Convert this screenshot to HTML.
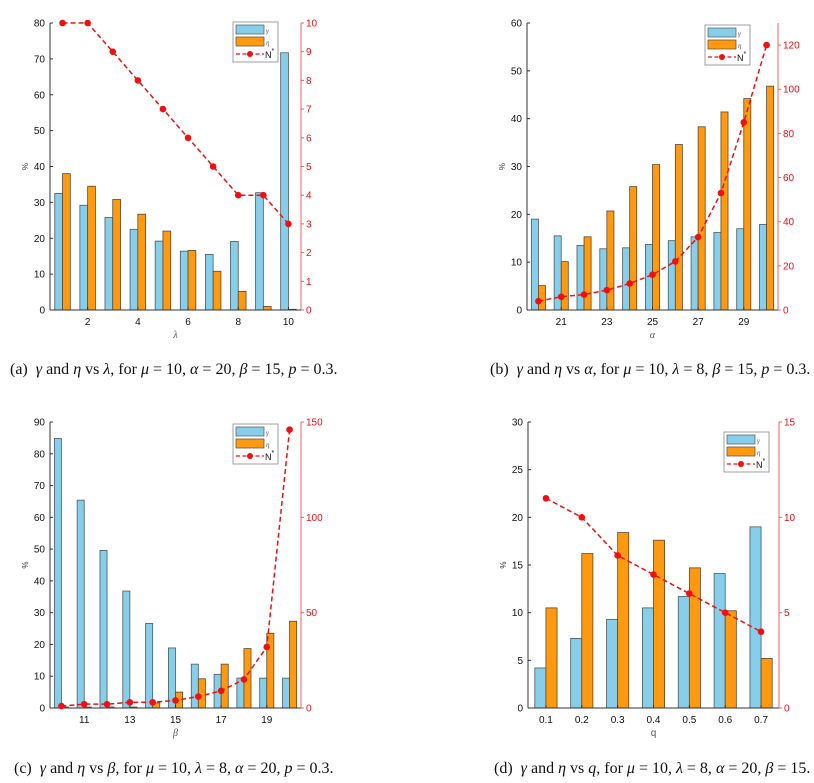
<!DOCTYPE html>
<html><head><meta charset="utf-8"><style>
body{margin:0;background:#fff;}
svg{display:block;font-family:"Liberation Sans",sans-serif;}
.cap{font-family:"Liberation Serif",serif;font-size:16px;fill:#111;}
</style></head><body>
<svg id="fig" width="814" height="783" viewBox="0 0 814 783" xmlns="http://www.w3.org/2000/svg"></svg>
<script>
// Panel (a)
const catsA = [1,2,3,4,5,6,7,8,9,10];
const gammaA = [32.5,29.2,25.8,22.5,19.2,16.4,15.5,19.1,32.7,71.7];
const etaA = [38,34.5,30.8,26.7,22,16.6,10.8,5.2,1,0.2];
const nA = [10,10,9,8,7,6,5,4,4,3];
const xTicksA = ["2","4","6","8","10"];
const yTicksA = [0,10,20,30,40,50,60,70,80];
const rTicksA = [0,1,2,3,4,5,6,7,8,9,10];
// Panel (b)
const catsB = [20,21,22,23,24,25,26,27,28,29,30];
const gammaB = [19,15.5,13.5,12.8,13,13.7,14.5,15.3,16.2,17,17.9];
const etaB = [5.1,10.1,15.3,20.7,25.8,30.4,34.6,38.3,41.4,44.2,46.8];
const nB = [4,6,7,9,12,16,22,33,53,85,120];
const xTicksB = ["21","23","25","27","29"];
const yTicksB = [0,10,20,30,40,50,60];
const rTicksB = [0,20,40,60,80,100,120];
// Panel (c)
const catsC = [10,11,12,13,14,15,16,17,18,19,20];
const gammaC = [84.8,65.4,49.6,36.8,26.6,18.9,13.8,10.6,9.4,9.4,9.4];
const etaC = [0.3,0.3,0.3,0.3,1.6,5,9.2,13.8,18.7,23.5,27.3];
const nC = [1,2,2,3,3,4,6,9,15,32,146];
const xTicksC = ["11","13","15","17","19"];
const yTicksC = [0,10,20,30,40,50,60,70,80,90];
const rTicksC = [0,50,100,150];
// Panel (d)
const catsD = ["0.1","0.2","0.3","0.4","0.5","0.6","0.7"];
const gammaD = [4.2,7.3,9.3,10.5,11.7,14.1,19];
const etaD = [10.5,16.2,18.4,17.6,14.7,10.2,5.2];
const nD = [11,10,8,7,6,5,4];
const xTicksD = ["0.1","0.2","0.3","0.4","0.5","0.6","0.7"];
const yTicksD = [0,5,10,15,20,25,30];
const rTicksD = [0,5,10,15];

const NS="http://www.w3.org/2000/svg";
const svg=document.getElementById('fig');
function mk(tag,attrs,parent,text){const e=document.createElementNS(NS,tag);for(const k in attrs)e.setAttribute(k,attrs[k]);if(text!==undefined)e.textContent=text;(parent||svg).appendChild(e);return e;}

function panel(id,cfg){
  const g=mk('g',{});
  
  
  const {L,R,T,B,cats,gamma,eta,n,yMax,rMax,yTicks,rTicks,xTicks,xlab,xlabItalic,caption,capX,legX,legY}=cfg;
  const N=cats.length, step=(R-L)/N;
  const xs=i=>L+step*(i+0.5);
  const y=v=>B-(B-T)*v/yMax;
  const yr=v=>B-(B-T)*v/rMax;
  const bw=step*0.31;
  for(let i=0;i<N;i++){
    const b1=mk('rect',{x:xs(i)-bw,y:y(gamma[i]),width:bw,height:B-y(gamma[i]),fill:'#87ceeb',stroke:'#4a5a60','stroke-width':0.8},g);
    
    
    const b2=mk('rect',{x:xs(i),y:y(eta[i]),width:bw,height:B-y(eta[i]),fill:'#ff9a10',stroke:'#5a4a30','stroke-width':0.8},g);
    
    
  }
  mk('line',{x1:L,y1:T,x2:L,y2:B,stroke:'#333','stroke-width':1},g);
  mk('line',{x1:L,y1:B,x2:R,y2:B,stroke:'#333','stroke-width':1},g);
  mk('line',{x1:R,y1:T,x2:R,y2:B,stroke:'#f06060','stroke-width':1},g);
  yTicks.forEach(v=>{mk('line',{x1:L,y1:y(v),x2:L+3,y2:y(v),stroke:'#333'},g);
    const t=mk('text',{x:L-5,y:y(v)+3.5,'font-size':10,'text-anchor':'end',fill:'#111'},g,String(v));
    });
  rTicks.forEach(v=>{mk('line',{x1:R,y1:yr(v),x2:R+3,y2:yr(v),stroke:'#f06060'},g);
    const t=mk('text',{x:R+5,y:yr(v)+3.5,'font-size':10,fill:'#e8101a'},g,String(v));
    });
  xTicks.forEach(lab=>{const i=cats.map(String).indexOf(lab);
    mk('line',{x1:xs(i),y1:B,x2:xs(i),y2:B-3,stroke:'#333'},g);
    const t=mk('text',{x:xs(i),y:B+15,'font-size':10,'text-anchor':'middle',fill:'#111'},g,lab);
    });
  const xl=mk('text',{x:(L+R)/2,y:B+28,'font-size':10,'text-anchor':'middle',fill:'#555','font-style':xlabItalic?'italic':'normal','font-family':xlabItalic?'Liberation Serif, serif':'Liberation Sans, sans-serif'},g,xlab);
  
  const yl=mk('text',{x:0,y:0,'font-size':8,'text-anchor':'middle',fill:'#333',transform:`translate(${L-22},${(T+B)/2}) rotate(-90)`},g,'%');
  
  const pts=n.map((v,i)=>xs(i)+','+yr(v)).join(' ');
  const pl=mk('polyline',{points:pts,fill:'none',stroke:'#f01010','stroke-width':1.5,'stroke-dasharray':'5,3'},g);
  
  n.forEach((v,i)=>{const c=mk('circle',{cx:xs(i),cy:yr(v),r:3.3,fill:'#f01010'},g);
    });
  const lg=mk('g',{},g);
  
  mk('rect',{x:legX,y:legY,width:45,height:40,fill:'#fff',stroke:'#888','stroke-width':0.8},lg);
  mk('rect',{x:legX+3,y:legY+3,width:28,height:9,fill:'#87ceeb',stroke:'#4a5a60','stroke-width':0.7},lg);
  mk('text',{x:legX+33,y:legY+11,'font-size':7,fill:'#555','font-family':'Liberation Serif, serif','font-style':'italic'},lg,'γ');
  mk('rect',{x:legX+3,y:legY+15,width:28,height:9,fill:'#ff9a10',stroke:'#5a4a30','stroke-width':0.7},lg);
  mk('text',{x:legX+33,y:legY+23,'font-size':7,fill:'#555','font-family':'Liberation Serif, serif','font-style':'italic'},lg,'η');
  mk('line',{x1:legX+3,y1:legY+32,x2:legX+31,y2:legY+32,stroke:'#f01010','stroke-width':1.3,'stroke-dasharray':'4,2.5'},lg);
  mk('circle',{cx:legX+17,cy:legY+32,r:3,fill:'#f01010'},lg);
  mk('text',{x:legX+32,y:legY+36,'font-size':9,fill:'#111'},lg,'N');
  mk('text',{x:legX+38.5,y:legY+31,'font-size':7,fill:'#111'},lg,'*');
  const cp=mk('text',{x:capX,y:cfg.capY,class:'cap'},g);
  
  cp.innerHTML=caption;
}
const I=s=>`<tspan font-style="italic">${s}</tspan>`;
panel('panel-a',{L:50,R:301,T:23,B:310,cats:catsA,gamma:gammaA,eta:etaA,n:nA,yMax:80,rMax:10,yTicks:yTicksA,rTicks:rTicksA,xTicks:xTicksA,xlab:'λ',xlabItalic:true,
  caption:`(a)\u00a0\u00a0${I('γ')} and ${I('η')} vs ${I('λ')}, for ${I('μ')} = 10, ${I('α')} = 20, ${I('β')} = 15, ${I('p')} = 0.3.`,capX:10,capY:374,legX:233,legY:22});
panel('panel-b',{L:527,R:778,T:23,B:310,cats:catsB,gamma:gammaB,eta:etaB,n:nB,yMax:60,rMax:130,yTicks:yTicksB,rTicks:rTicksB,xTicks:xTicksB,xlab:'α',xlabItalic:true,
  caption:`(b)\u00a0\u00a0${I('γ')} and ${I('η')} vs ${I('α')}, for ${I('μ')} = 10, ${I('λ')} = 8, ${I('β')} = 15, ${I('p')} = 0.3.`,capX:490,capY:374,legX:705,legY:25});
panel('panel-c',{L:50,R:301,T:422,B:708,cats:catsC,gamma:gammaC,eta:etaC,n:nC,yMax:90,rMax:150,yTicks:yTicksC,rTicks:rTicksC,xTicks:xTicksC,xlab:'β',xlabItalic:true,
  caption:`(c)\u00a0\u00a0${I('γ')} and ${I('η')} vs ${I('β')}, for ${I('μ')} = 10, ${I('λ')} = 8, ${I('α')} = 20, ${I('p')} = 0.3.`,capX:14,capY:773,legX:233,legY:424});
panel('panel-d',{L:528,R:779,T:422,B:708,cats:catsD,gamma:gammaD,eta:etaD,n:nD,yMax:30,rMax:15,yTicks:yTicksD,rTicks:rTicksD,xTicks:xTicksD,xlab:'q',xlabItalic:false,
  caption:`(d)\u00a0\u00a0${I('γ')} and ${I('η')} vs ${I('q')}, for ${I('μ')} = 10, ${I('λ')} = 8, ${I('α')} = 20, ${I('β')} = 15.`,capX:494,capY:773,legX:724,legY:432});
</script>
</body></html>
